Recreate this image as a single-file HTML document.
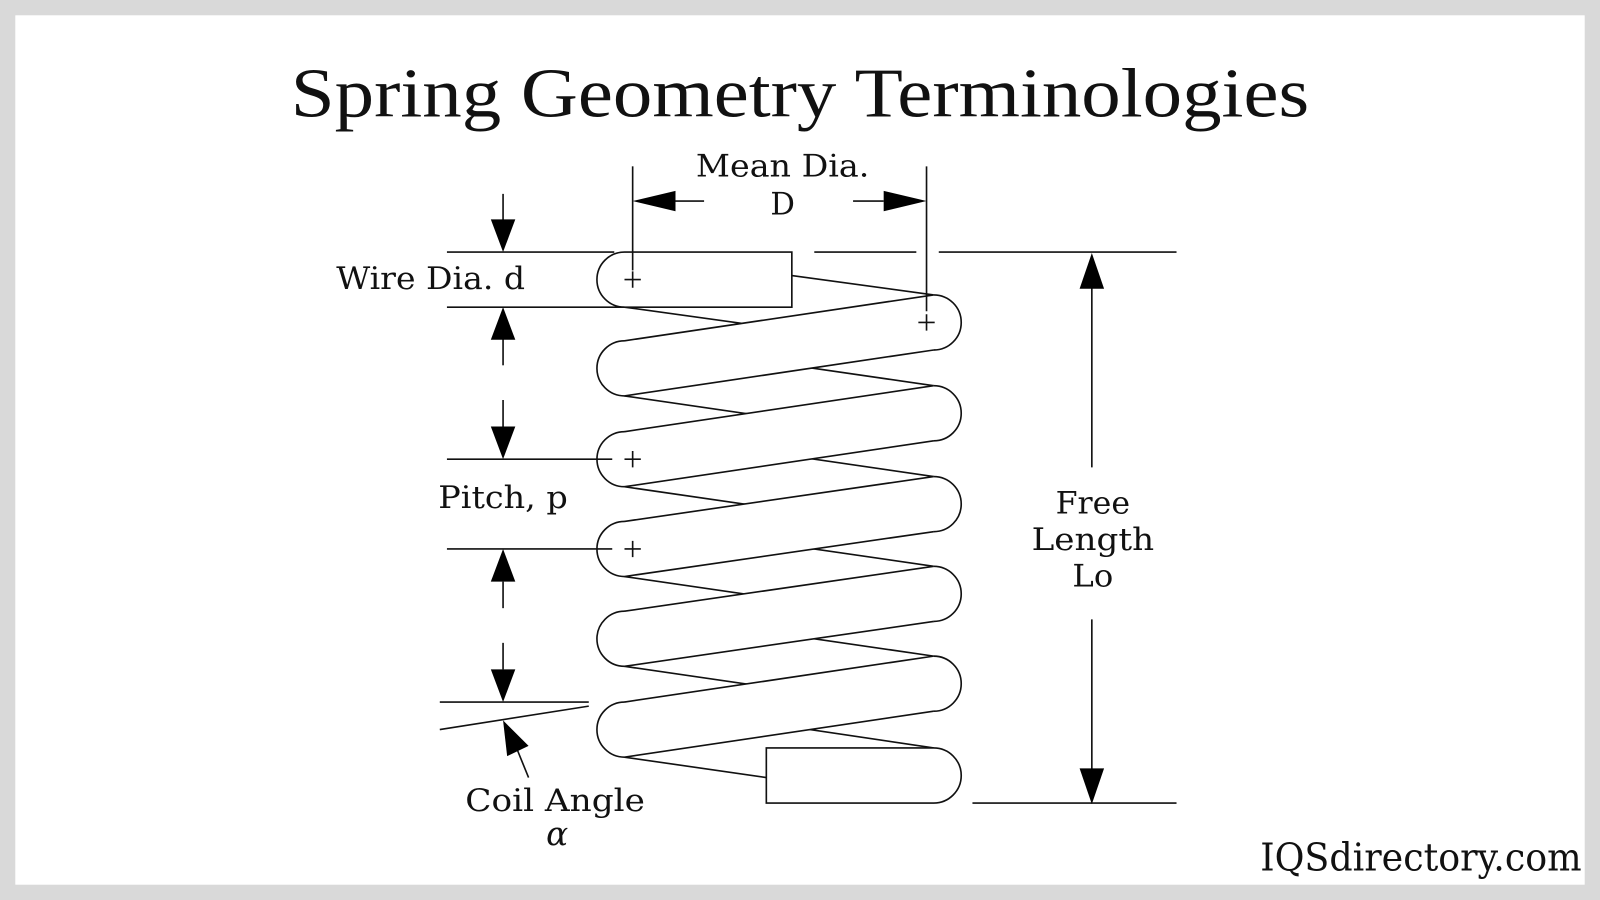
<!DOCTYPE html>
<html><head><meta charset="utf-8"><style>
html,body{margin:0;padding:0;background:#d9d9d9}
svg{display:block}
text{font-family:"DejaVu Serif","Liberation Serif",serif;fill:#111}
</style></head><body>
<svg width="1600" height="900" viewBox="0 0 1568 882" preserveAspectRatio="none" xmlns="http://www.w3.org/2000/svg">
<rect x="0" y="0" width="1568" height="882" fill="#d9d9d9"/>
<rect x="15" y="15" width="1538" height="852" fill="#fff"/>
<text x="784" y="114" font-size="68" text-anchor="middle" textLength="998" lengthAdjust="spacingAndGlyphs" style="font-family:'Liberation Serif',serif">Spring Geometry Terminologies</text>

<g stroke="#111" stroke-width="1.6" fill="none">
<line x1="776" y1="270" x2="915" y2="289"/>
<line x1="612" y1="301" x2="915" y2="343"/>
<line x1="612" y1="334" x2="915" y2="378"/>
<line x1="612" y1="388" x2="915" y2="432"/>
<line x1="612" y1="423" x2="915" y2="467"/>
<line x1="612" y1="477" x2="915" y2="521"/>
<line x1="612" y1="511" x2="915" y2="555"/>
<line x1="612" y1="565" x2="915" y2="609"/>
<line x1="612" y1="599" x2="915" y2="643"/>
<line x1="612" y1="653" x2="915" y2="697"/>
<line x1="612" y1="688" x2="915" y2="733"/>
<line x1="612" y1="742" x2="751" y2="762"/>
</g>
<g fill="#fff" stroke="none">
<polygon points="915,289 612,334 612,388 915,343"/>
<polygon points="915,378 612,423 612,477 915,432"/>
<polygon points="915,467 612,511 612,565 915,521"/>
<polygon points="915,555 612,599 612,653 915,609"/>
<polygon points="915,643 612,688 612,742 915,697"/>
</g>
<g stroke="#111" stroke-width="1.6" fill="none">
<line x1="915" y1="289" x2="612" y2="334"/><line x1="915" y1="343" x2="612" y2="388"/>
<line x1="915" y1="378" x2="612" y2="423"/><line x1="915" y1="432" x2="612" y2="477"/>
<line x1="915" y1="467" x2="612" y2="511"/><line x1="915" y1="521" x2="612" y2="565"/>
<line x1="915" y1="555" x2="612" y2="599"/><line x1="915" y1="609" x2="612" y2="653"/>
<line x1="915" y1="643" x2="612" y2="688"/><line x1="915" y1="697" x2="612" y2="742"/>
<path d="M612 247 A27 27 0 0 0 612 301 L776 301 L776 247 Z" fill="#fff"/>
<path d="M751 733 L915 733 A27 27 0 0 1 915 787 L751 787 Z" fill="#fff"/>
<path d="M612 334 A27 27 0 0 0 612 388"/>
<path d="M612 423 A27 27 0 0 0 612 477"/>
<path d="M612 511 A27 27 0 0 0 612 565"/>
<path d="M612 599 A27 27 0 0 0 612 653"/>
<path d="M612 688 A27 27 0 0 0 612 742"/>
<path d="M915 289 A27 27 0 0 1 915 343"/>
<path d="M915 378 A27 27 0 0 1 915 432"/>
<path d="M915 467 A27 27 0 0 1 915 521"/>
<path d="M915 555 A27 27 0 0 1 915 609"/>
<path d="M915 643 A27 27 0 0 1 915 697"/>
<path d="M612 274h16M620 266v16M900 316h16M908 308v16M612 450h16M620 442v16M612 538h16M620 530v16"/>
<line x1="620" y1="163" x2="620" y2="265"/>
<line x1="908" y1="163" x2="908" y2="305"/>
<line x1="662" y1="197" x2="690" y2="197"/>
<line x1="836" y1="197" x2="866" y2="197"/>
<line x1="438" y1="247" x2="602" y2="247"/>
<line x1="798" y1="247" x2="898" y2="247"/>
<line x1="920" y1="247" x2="1153" y2="247"/>
<line x1="438" y1="301" x2="612" y2="301"/>
<line x1="493" y1="190" x2="493" y2="216"/>
<line x1="493" y1="332" x2="493" y2="358"/>
<line x1="493" y1="392" x2="493" y2="418"/>
<line x1="438" y1="450" x2="600" y2="450"/>
<line x1="438" y1="538" x2="600" y2="538"/>
<line x1="493" y1="570" x2="493" y2="596"/>
<line x1="493" y1="630" x2="493" y2="656"/>
<line x1="431" y1="688" x2="577" y2="688"/>
<line x1="431" y1="715" x2="577" y2="692"/>
<line x1="507" y1="735" x2="518" y2="762"/>
<line x1="1070" y1="282" x2="1070" y2="458"/>
<line x1="1070" y1="607" x2="1070" y2="754"/>
<line x1="953" y1="787" x2="1153" y2="787"/>
</g>
<g fill="#000">
<polygon points="620,197 662,187 662,207"/>
<polygon points="908,197 866,187 866,207"/>
<polygon points="493,247 481,215 505,215"/>
<polygon points="493,301 481,333 505,333"/>
<polygon points="493,450 481,418 505,418"/>
<polygon points="493,538 481,570 505,570"/>
<polygon points="493,688 481,656 505,656"/>
<polygon points="493,706 497,741 518,731"/>
<polygon points="1070,248 1058,283 1082,283"/>
<polygon points="1070,788 1058,753 1082,753"/>
</g>

<g font-size="30" text-anchor="middle" lengthAdjust="spacingAndGlyphs">
<text x="767" y="173" textLength="170" lengthAdjust="spacingAndGlyphs">Mean Dia.</text>
<text x="767" y="210">D</text>
<text x="422" y="283" textLength="185" lengthAdjust="spacingAndGlyphs">Wire Dia. d</text>
<text x="493" y="498" textLength="127" lengthAdjust="spacingAndGlyphs">Pitch, p</text>
<text x="544" y="795" textLength="176" lengthAdjust="spacingAndGlyphs">Coil Angle</text>
<text x="546" y="828" font-style="italic" font-size="32">α</text>
<text x="1071" y="503" textLength="73" lengthAdjust="spacingAndGlyphs">Free</text>
<text x="1071" y="539" textLength="120" lengthAdjust="spacingAndGlyphs">Length</text>
<text x="1071" y="575" textLength="40" lengthAdjust="spacingAndGlyphs">Lo</text>
</g>
<text x="1550" y="853" font-size="38" text-anchor="end" textLength="315" lengthAdjust="spacingAndGlyphs">IQSdirectory.com</text>
</svg>
</body></html>
